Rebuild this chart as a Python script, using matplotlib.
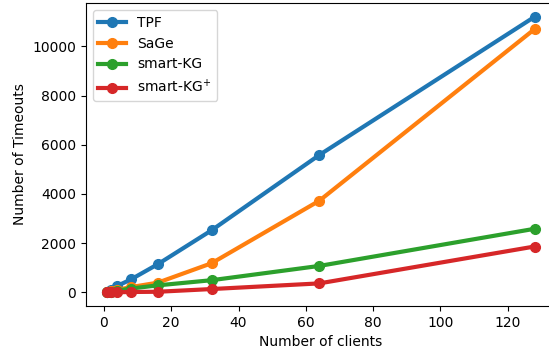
import matplotlib
matplotlib.use("Agg")
import matplotlib.pyplot as plt

# number of clients and timeouts per approach
clients = [1, 2, 4, 8, 16, 32, 64, 128]
tpf = [30, 100, 260, 520, 1140, 2520, 5580, 11200]
sage = [10, 40, 100, 210, 390, 1180, 3720, 10700]
smart_kg = [10, 30, 70, 150, 280, 490, 1070, 2580]
smart_kg_plus = [0, 0, 0, 10, 20, 130, 360, 1860]

fig = plt.figure(figsize=(5.49, 3.56), dpi=100)
ax = fig.add_axes([0.1566, 0.1404, 0.856, 0.851])

ax.plot(clients, tpf, marker="o", linewidth=3, markersize=7, label="TPF")
ax.plot(clients, sage, marker="o", linewidth=3, markersize=7, label="SaGe")
ax.plot(clients, smart_kg, marker="o", linewidth=3, markersize=7, label="smart-KG")
ax.plot(clients, smart_kg_plus, marker="o", linewidth=3, markersize=7, label="smart-KG$^{+}$")

ax.set_xlabel("Number of clients")
ax.set_ylabel("Number of Timeouts")
ax.legend(loc="upper left")

fig.savefig("out.png", dpi=100)
